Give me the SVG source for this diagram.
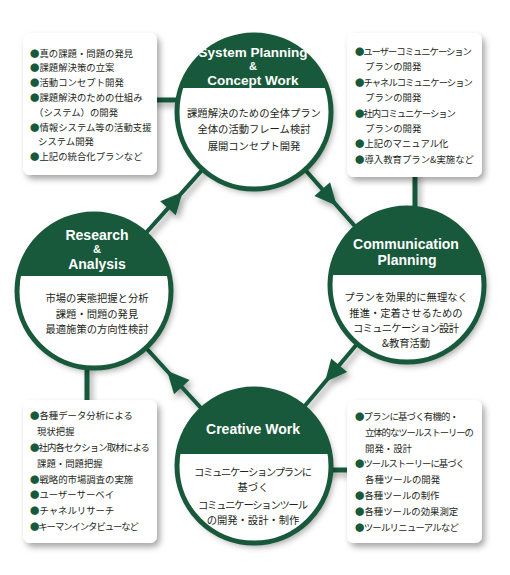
<svg xmlns="http://www.w3.org/2000/svg" width="510" height="575" viewBox="0 0 510 575">
<defs>
<filter id="sh" x="-20%" y="-20%" width="150%" height="150%">
<feDropShadow dx="3" dy="4" stdDeviation="3" flood-color="#000" flood-opacity="0.35"/>
</filter>
<marker id="ah" viewBox="-12 -12 24 24" refX="0" refY="0" markerWidth="24" markerHeight="24" markerUnits="userSpaceOnUse" orient="auto">
<path d="M-11,-10.5 L11,0 L-11,10.5 Z" fill="#17593a"/>
</marker>
<style>
.ring{fill:none;stroke:#17593a;stroke-width:5}
.hdr{fill:#17593a}
.wf{fill:#fff}
.ht{font-family:"Liberation Sans",Arial,sans-serif;font-weight:bold;font-size:14px;fill:#fff;text-anchor:middle}
.amp{font-size:11px}
.ct{font-family:"Noto Sans CJK JP",sans-serif;font-size:10.3px;fill:#231f20;text-anchor:middle}
.bt{font-family:"Noto Sans CJK JP",sans-serif;font-size:9.4px;fill:#231f20}
.b{fill:#17593a}
.box{fill:#fff}
.cn{fill:none;stroke:#17593a;stroke-width:4}
.ln{fill:none;stroke:#17593a;stroke-width:5}
</style>
</defs>
<rect width="510" height="575" fill="#fff"/>

<g id="connectors" filter="url(#sh)">
<line class="ln" x1="150" y1="100" x2="182" y2="100"/>
<line class="ln" x1="415" y1="170" x2="415" y2="212"/>
<line class="ln" x1="87" y1="365" x2="87" y2="405"/>
<line class="ln" x1="326" y1="470" x2="352" y2="470"/>
<path class="cn" d="M145.3,233.6 L175.3,200.1 L202.7,169.4" marker-mid="url(#ah)"/>
<path class="cn" d="M305,169.7 L329.5,197.4 L356,227.3" marker-mid="url(#ah)"/>
<path class="cn" d="M357.3,343.8 L332.1,373.6 L303.7,407.2" marker-mid="url(#ah)"/>
<path class="cn" d="M202,409.2 L174.4,379 L146,347.8" marker-mid="url(#ah)"/>
</g>

<g id="box-system-planning">
<rect class="box" x="23" y="33" width="134" height="142" rx="7" filter="url(#sh)"/>
<text class="bt" x="30" y="56.5"><tspan class="b">●</tspan>真の課題・問題の発見</text>
<text class="bt" x="30" y="71.3"><tspan class="b">●</tspan>課題解決策の立案</text>
<text class="bt" x="30" y="86.1"><tspan class="b">●</tspan>活動コンセプト開発</text>
<text class="bt" x="30" y="100.9"><tspan class="b">●</tspan>課題解決のための仕組み</text>
<text class="bt" x="34" y="115.7">（システム）の開発</text>
<text class="bt" x="30" y="130.5"><tspan class="b">●</tspan>情報システム等の活動支援</text>
<text class="bt" x="38" y="145.3">システム開発</text>
<text class="bt" x="30" y="160.1"><tspan class="b">●</tspan>上記の統合化プランなど</text>
</g>

<g id="box-communication-planning">
<rect class="box" x="347" y="33" width="135" height="144" rx="7" filter="url(#sh)"/>
<text class="bt" x="355" y="55" textLength="117"><tspan class="b">●</tspan>ユーザーコミュニケーション</text>
<text class="bt" x="365" y="70.4">プランの開発</text>
<text class="bt" x="355" y="85.8" textLength="118"><tspan class="b">●</tspan>チャネルコミュニケーション</text>
<text class="bt" x="365" y="101.2">プランの開発</text>
<text class="bt" x="355" y="116.6" textLength="101"><tspan class="b">●</tspan>社内コミュニケーション</text>
<text class="bt" x="365" y="132">プランの開発</text>
<text class="bt" x="355" y="147.4"><tspan class="b">●</tspan>上記のマニュアル化</text>
<text class="bt" x="355" y="162.8"><tspan class="b">●</tspan>導入教育プラン&amp;実施など</text>
</g>

<g id="box-research-analysis">
<rect class="box" x="23" y="400" width="134" height="143" rx="7" filter="url(#sh)"/>
<text class="bt" x="30" y="419.3"><tspan class="b">●</tspan>各種データ分析による</text>
<text class="bt" x="37" y="435.1">現状把握</text>
<text class="bt" x="30" y="450.9" textLength="120"><tspan class="b">●</tspan>社内各セクション取材による</text>
<text class="bt" x="37" y="466.7">課題・問題把握</text>
<text class="bt" x="30" y="482.5"><tspan class="b">●</tspan>戦略的市場調査の実施</text>
<text class="bt" x="30" y="498.3"><tspan class="b">●</tspan>ユーザーサーベイ</text>
<text class="bt" x="30" y="514.1"><tspan class="b">●</tspan>チャネルリサーチ</text>
<text class="bt" x="30" y="529.9" textLength="109"><tspan class="b">●</tspan>キーマンインタビューなど</text>
</g>

<g id="box-creative-work">
<rect class="box" x="347" y="400" width="135" height="143" rx="7" filter="url(#sh)"/>
<text class="bt" x="355" y="420" textLength="104"><tspan class="b">●</tspan>プランに基づく有機的・</text>
<text class="bt" x="365" y="435.8" textLength="109">立体的なツールストーリーの</text>
<text class="bt" x="365" y="451.6">開発・設計</text>
<text class="bt" x="355" y="467.4" textLength="110"><tspan class="b">●</tspan>ツールストーリーに基づく</text>
<text class="bt" x="365" y="483.2">各種ツールの開発</text>
<text class="bt" x="355" y="499"><tspan class="b">●</tspan>各種ツールの制作</text>
<text class="bt" x="355" y="514.8"><tspan class="b">●</tspan>各種ツールの効果測定</text>
<text class="bt" x="355" y="530.6" textLength="104"><tspan class="b">●</tspan>ツールリニューアルなど</text>
</g>

<g id="system-planning">
<circle class="wf" cx="254" cy="112" r="77" filter="url(#sh)"/>
<path class="hdr" d="M180.8,88 A77,77 0 0 1 327.2,88 Z"/>
<circle class="ring" cx="254" cy="112" r="77"/>
<text class="ht" x="253" y="57" style="font-size:13.5px">System Planning</text>
<text class="ht amp" x="253" y="70">&amp;</text>
<text class="ht" x="253" y="84.5" style="font-size:13.5px">Concept Work</text>
<text class="ct" x="254" y="117">課題解決のための全体プラン</text>
<text class="ct" x="254" y="133">全体の活動フレーム検討</text>
<text class="ct" x="254" y="150">展開コンセプト開発</text>
</g>

<g id="communication-planning">
<circle class="wf" cx="407" cy="285" r="77" filter="url(#sh)"/>
<path class="hdr" d="M330.7,275 A77,77 0 0 1 483.3,275 Z"/>
<circle class="ring" cx="407" cy="285" r="77"/>
<text class="ht" x="406" y="249">Communication</text>
<text class="ht" x="407" y="265">Planning</text>
<text class="ct" x="406" y="300.5">プランを効果的に無理なく</text>
<text class="ct" x="406" y="316.5">推進・定着させるための</text>
<text class="ct" x="406" y="331.5" textLength="106">コミュニケーション設計</text>
<text class="ct" x="406" y="347">&amp;教育活動</text>
</g>

<g id="creative-work">
<circle class="wf" cx="254" cy="466" r="77" filter="url(#sh)"/>
<path class="hdr" d="M177.9,454 A77,77 0 0 1 330.1,454 Z"/>
<circle class="ring" cx="254" cy="466" r="77"/>
<text class="ht" x="253" y="434">Creative Work</text>
<text class="ct" x="253" y="475.5" textLength="118">コミュニケーションプランに</text>
<text class="ct" x="253" y="490.5">基づく</text>
<text class="ct" x="253" y="508.5" textLength="110">コミュニケーションツール</text>
<text class="ct" x="253" y="523.5">の開発・設計・制作</text>
</g>

<g id="research-analysis">
<circle class="wf" cx="94" cy="291" r="77" filter="url(#sh)"/>
<path class="hdr" d="M18.5,276 A77,77 0 0 1 169.5,276 Z"/>
<circle class="ring" cx="94" cy="291" r="77"/>
<text class="ht" x="97" y="240">Research</text>
<text class="ht amp" x="97" y="253">&amp;</text>
<text class="ht" x="97" y="268.5">Analysis</text>
<text class="ct" x="97" y="302">市場の実態把握と分析</text>
<text class="ct" x="97" y="318">課題・問題の発見</text>
<text class="ct" x="97" y="333">最適施策の方向性検討</text>
</g>
</svg>
